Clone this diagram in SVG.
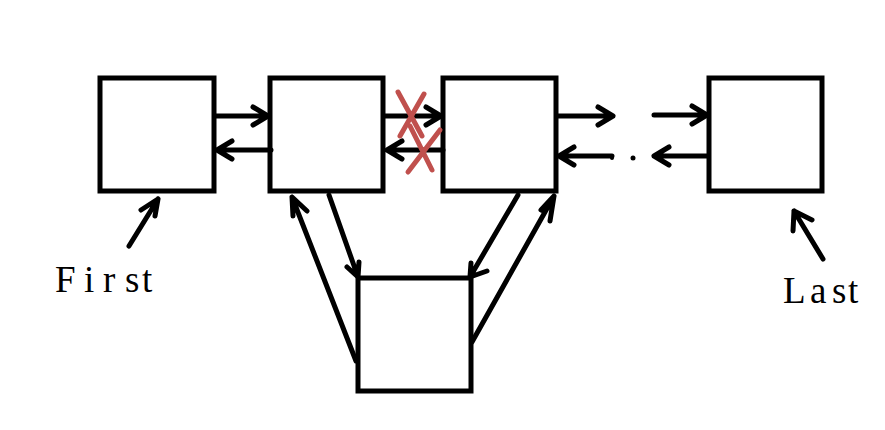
<svg xmlns="http://www.w3.org/2000/svg" width="885" height="430" viewBox="0 0 885 430">
<style>
.box{fill:#fff;stroke:#000;stroke-width:5}
.c{fill:none;stroke:#000;stroke-width:5;stroke-linecap:round;stroke-linejoin:round}
.x{fill:none;stroke:#c0504d;stroke-width:5;stroke-linecap:round}
.t{font-family:"Liberation Serif",serif;font-size:37px;fill:#000}
</style>
<rect width="885" height="430" fill="#fff"/>
<g id="node1"><rect class="box" x="100" y="78" width="114" height="113"/></g>
<g id="node2"><rect class="box" x="270" y="78" width="113" height="113"/></g>
<g id="node3"><rect class="box" x="443" y="78" width="113" height="113"/></g>
<g id="node4"><rect class="box" x="709" y="78" width="113" height="113"/></g>
<g id="node5"><rect class="box" x="358" y="278" width="113" height="113"/></g>
<g id="connectors">
<path class="c" d="M216 116H268M253 107L268 116L253 125"/>
<path class="c" d="M271 150H217M232 141L217 150L232 159"/>
<path class="c" d="M385 116H441M426 107L441 116L426 125"/>
<path class="c" d="M443 150H387M402 141L387 150L402 159"/>
<path class="c" d="M558 116H613M598 107L613 116L598 125"/>
<path class="c" d="M654 115H707M692 106L707 115L692 124"/>
<path class="c" d="M612 156H559M574 147L559 156L574 165"/>
<path class="c" d="M707 156H654M669 147L654 156L669 165"/>
<circle cx="633" cy="158" r="2.5" fill="#000"/>
<circle cx="612" cy="158" r="2" fill="#000"/>
<path class="c" d="M329 195L358 277M347 267L358 277L359 262"/>
<path class="c" d="M356 361L292 197M293 216L292 197L307 211"/>
<path class="c" d="M518 195L470 277M471 263L470 277L487 271"/>
<path class="c" d="M472 342L554 196M541 210L554 196L550 221"/>
<path class="c" d="M129 246L158 199M141 210L158 199L155 216"/>
<path class="c" d="M823 259L794 211M793 231L794 211L812 220"/>
<path class="x" d="M398 92L422 136M424 94L400 136"/>
<path class="x" d="M410 126L432 170M440 130L408 172"/>
</g>
<text class="t" x="55 84 103 125 142" y="292">First</text>
<text class="t" x="783 810 832 848" y="303">Last</text>
</svg>
